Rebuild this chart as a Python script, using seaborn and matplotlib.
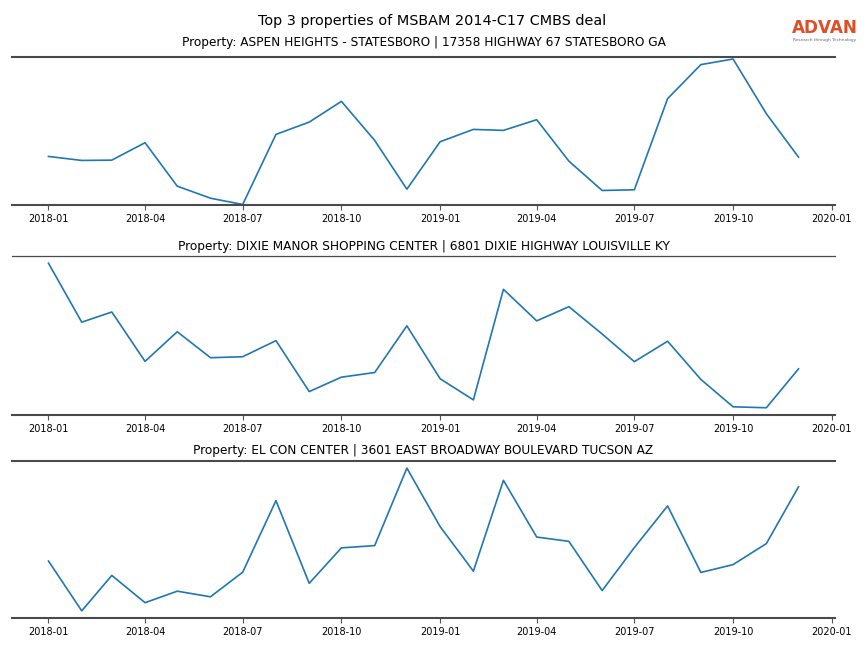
import matplotlib
matplotlib.use("Agg")
import matplotlib.pyplot as plt
import matplotlib.dates as mdates
import seaborn as sns
import pandas as pd

months = ["2018-01", "2018-02", "2018-03", "2018-04", "2018-05", "2018-06",
          "2018-07", "2018-08", "2018-09", "2018-10", "2018-11", "2018-12",
          "2019-01", "2019-02", "2019-03", "2019-04", "2019-05", "2019-06",
          "2019-07", "2019-08", "2019-09", "2019-10", "2019-11", "2019-12"]

titles = [
    "Property: ASPEN HEIGHTS - STATESBORO | 17358 HIGHWAY 67 STATESBORO GA",
    "Property: DIXIE MANOR SHOPPING CENTER | 6801 DIXIE HIGHWAY LOUISVILLE KY",
    "Property: EL CON CENTER | 3601 EAST BROADWAY BOULEVARD TUCSON AZ",
]

aspen = [49, 45, 45.3, 62.7, 19.3, 7.3, 1, 71, 83.3, 104, 65, 16.3,
         63.7, 76, 75, 85.7, 44.3, 15, 15.7, 106.7, 140.7, 146.3, 91.7, 48.3]
dixie = [157.7, 98, 108.3, 58.3, 88.3, 62, 63, 79.3, 27.7, 42.3, 47, 94.3,
         40.7, 19.3, 131.3, 99.3, 113.7, 86, 58, 78.7, 40, 12.3, 11.3, 50.7]
elcon = [58.3, 7.7, 43.7, 16, 27.7, 22, 47, 119.7, 35.7, 71.7, 74, 152.7,
         93.3, 48, 140.3, 82.7, 78.3, 28.3, 72, 114.3, 46.7, 54.7, 76, 133.7]

series = [aspen, dixie, elcon]

fig = plt.figure(figsize=(8.64, 6.48), dpi=100)
fig.suptitle("Top 3 properties of MSBAM 2014-C17 CMBS deal", fontsize=10.4, y=0.979)

# axes rectangles [left, bottom, width, height]
rects = [
    [12 / 864, 1 - 205 / 648, 823 / 864, 148 / 648],
    [12 / 864, 1 - 415 / 648, 823 / 864, 159 / 648],
    [12 / 864, 1 - 618 / 648, 823 / 864, 157 / 648],
]
pads = [7.7, 4.1, 4.8]

spine_col = "#4a4a4a"
for i, (title, vals) in enumerate(zip(titles, series)):
    ax = fig.add_axes(rects[i])
    df = pd.DataFrame({"month": pd.to_datetime(months), "value": vals})
    sns.lineplot(data=df, x="month", y="value", ax=ax, color="#1f77b4", linewidth=1.2)
    ax.set_title(title, fontsize=8.7, pad=pads[i])
    ax.set_xlabel("")
    ax.set_ylabel("")
    ax.set_yticks([])
    ax.xaxis.set_major_locator(mdates.MonthLocator(bymonth=[1, 4, 7, 10]))
    ax.xaxis.set_major_formatter(mdates.DateFormatter("%Y-%m"))
    ax.tick_params(axis="x", labelsize=7, length=3.5, width=0.8, color="#555555", pad=3)
    ax.spines["left"].set_visible(False)
    ax.spines["right"].set_visible(False)
    for s in ("top", "bottom"):
        ax.spines[s].set_color(spine_col)
        ax.spines[s].set_linewidth(1.5)
    if i == 1:
        ax.spines["top"].set_linewidth(0.9)
    if i == 0:
        ax.set_ylim(min(vals) - 0.5, max(vals) + 2)
    ax.set_xlim(pd.Timestamp("2017-11-28"), pd.Timestamp("2020-01-04"))

fig.text(0.9545, 0.9575, "ADVAN", color="#e04e26", fontsize=12.2, ha="center", va="center",
         fontweight="semibold")
fig.text(0.9545, 0.9385, "Research through Technology", color="#666666", fontsize=3.1,
         ha="center", va="center")

fig.savefig("out.png", dpi=100)
